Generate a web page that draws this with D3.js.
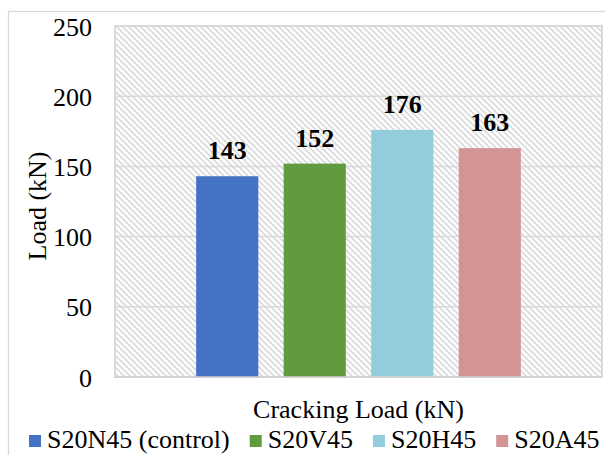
<!DOCTYPE html>
<html><head><meta charset="utf-8">
<script src="https://cdn.jsdelivr.net/npm/d3@7"></script>
<style>body{margin:0;background:#fff}svg{display:block}text{font-family:"Liberation Serif","Times New Roman",serif}</style>
</head><body>
<svg id="c" width="605" height="455"></svg>
<script>
const categories = ["Cracking Load (kN)"];
const series = ["S20N45 (control)", "S20V45", "S20H45", "S20A45"];
const values = [143, 152, 176, 163];
const colors = ["#4472C4", "#619B3F", "#93CDDD", "#D49494"];
const yTicks = [0, 50, 100, 150, 200, 250];

const svg = d3.select("#c");
const m = {l:115, t:26, r:602, b:377};
const FS = 26;

const defs = svg.append("defs");
const pat = defs.append("pattern").attr("id","hatch").attr("patternUnits","userSpaceOnUse")
  .attr("width",6).attr("height",6);
pat.append("rect").attr("width",6).attr("height",6).attr("fill","#fff");
pat.append("path").attr("d","M-1,-1 L7,7 M-4,2 L2,8 M4,-2 L10,4").attr("stroke","#dcdcdc").attr("stroke-width",1.9);

// outer chart border
svg.append("rect").attr("x",8.5).attr("y",11.5).attr("width",620).attr("height",460)
  .attr("fill","none").attr("stroke","#d9d9d9").attr("stroke-width",1.3);

const y = d3.scaleLinear().domain([0,250]).range([m.b,m.t]);
const x0 = d3.scaleBand().domain(categories).range([m.l,m.r]).paddingInner(0).paddingOuter(0.25);
const x1 = d3.scaleBand().domain(series).range([0,x0.bandwidth()]).paddingInner(0.29).paddingOuter(0);

// plot area
svg.append("rect").attr("x",m.l).attr("y",m.t).attr("width",m.r-m.l).attr("height",m.b-m.t)
  .attr("fill","url(#hatch)").attr("stroke","#d9d9d9").attr("stroke-width",2);

// gridlines
svg.append("g").selectAll("line").data(yTicks.filter(d=>d>0)).join("line")
  .attr("x1",m.l).attr("x2",m.r).attr("y1",d=>y(d)).attr("y2",d=>y(d))
  .attr("stroke","#d9d9d9").attr("stroke-width",1.5);

// y axis labels
const yAxis = d3.axisLeft(y).tickValues(yTicks).tickSize(0).tickPadding(23);
const ya = svg.append("g").attr("transform",`translate(${m.l},0)`).call(yAxis);
ya.select(".domain").remove();
ya.attr("font-family",null);
ya.selectAll("text").attr("font-size",FS).attr("fill","#000").attr("dy","0.35em");

// bars
const g = svg.append("g").attr("transform",`translate(${x0(categories[0])},0)`);
g.selectAll("rect").data(series).join("rect")
  .attr("x",d=>x1(d)).attr("width",x1.bandwidth())
  .attr("y",(d,i)=>y(values[i])).attr("height",(d,i)=>y(0)-y(values[i]))
  .attr("fill",(d,i)=>colors[i]);
g.selectAll("text").data(series).join("text")
  .attr("x",d=>x1(d)+x1.bandwidth()/2).attr("y",(d,i)=>y(values[i])-17)
  .attr("text-anchor","middle").attr("font-size",FS).attr("font-weight","bold").text((d,i)=>values[i]);

// x axis line
svg.append("line").attr("x1",m.l).attr("x2",m.r).attr("y1",m.b).attr("y2",m.b)
  .attr("stroke","#d0d0d0").attr("stroke-width",1.5);

// x category label
svg.append("text").attr("x",x0(categories[0])+x0.bandwidth()/2).attr("y",418)
  .attr("text-anchor","middle").attr("font-size",FS).text(categories[0]);

// y title
svg.append("text").attr("transform","translate(46,206) rotate(-90)")
  .attr("text-anchor","middle").attr("font-size",FS).text("Load (kN)");

// legend
const lg = svg.append("g").attr("transform","translate(29,448)");
let lx = 0;
series.forEach((s,i)=>{
  const it = lg.append("g").attr("transform",`translate(${lx},0)`);
  it.append("rect").attr("x",0).attr("y",-13).attr("width",12).attr("height",12).attr("fill",colors[i]);
  const t = it.append("text").attr("x",18).attr("y",0).attr("font-size",FS).text(s);
  lx += 18 + t.node().getComputedTextLength() + 20;
});
</script>
</body></html>
